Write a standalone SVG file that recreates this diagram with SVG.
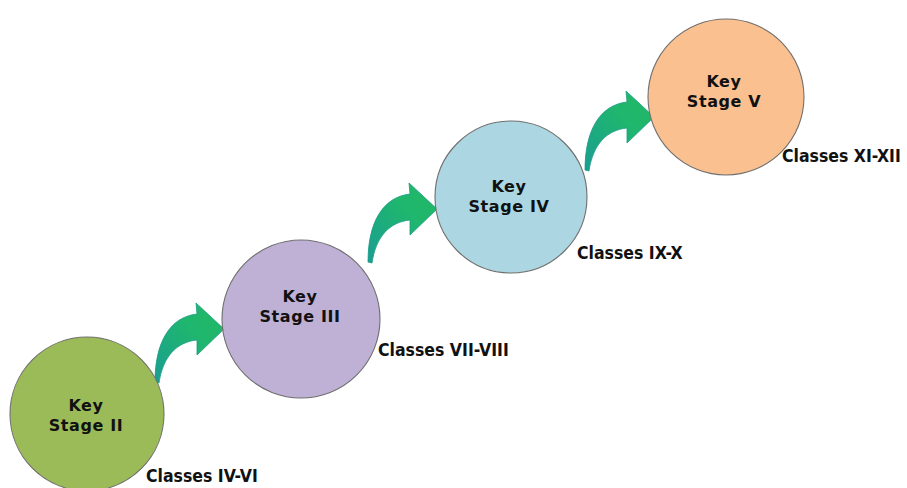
<svg xmlns="http://www.w3.org/2000/svg" width="907" height="488" viewBox="0 0 907 488">
<style>
.node circle{stroke:#6f6f6f;stroke-width:1.1}
.k{font-family:"DejaVu Sans","Liberation Sans",sans-serif;font-weight:bold;font-size:16px;letter-spacing:0.6px;fill:#111;text-anchor:middle}
.c{font-family:"DejaVu Sans Condensed","DejaVu Sans","Liberation Sans",sans-serif;font-weight:bold;font-size:17.5px;fill:#111}
.arrow{fill:url(#ag);stroke:#1c9a86;stroke-width:0.8}
</style>
<defs>
<linearGradient id="ag" x1="0" y1="1" x2="1" y2="0">
<stop offset="0" stop-color="#1a9e92"/>
<stop offset="0.6" stop-color="#1fb66e"/>
<stop offset="1" stop-color="#21b863"/>
</linearGradient>
<path id="arr" d="M0,0 C0,-40 15,-65 42,-68 L41,-79 L69,-53 L42,-27 L42,-42 C22,-40 8,-26 4,1 Z"/>
</defs>
<g id="connectors">
<use href="#arr" class="arrow" transform="translate(155,382)"/>
<use href="#arr" class="arrow" transform="translate(368,262)"/>
<use href="#arr" class="arrow" transform="translate(585,170)"/>
</g>
<g id="node-ks2" class="node">
<circle cx="87" cy="414" r="77" fill="#9bbb59"/>
<text class="k" x="86" y="411">Key</text>
<text class="k" x="86" y="431">Stage II</text>
<text class="c" x="146" y="482">Classes IV-VI</text>
</g>
<g id="node-ks3" class="node">
<circle cx="301" cy="319" r="79" fill="#bfb1d5"/>
<text class="k" x="300" y="302">Key</text>
<text class="k" x="300" y="322">Stage III</text>
<text class="c" x="378" y="356">Classes VII-VIII</text>
</g>
<g id="node-ks4" class="node">
<circle cx="511" cy="197" r="76" fill="#acd6e2"/>
<text class="k" x="509" y="192">Key</text>
<text class="k" x="509" y="212">Stage IV</text>
<text class="c" x="577" y="259">Classes IX-X</text>
</g>
<g id="node-ks5" class="node">
<circle cx="726" cy="97" r="78" fill="#fac090"/>
<text class="k" x="724" y="87">Key</text>
<text class="k" x="724" y="107">Stage V</text>
<text class="c" x="782" y="162">Classes XI-XII</text>
</g>
</svg>
